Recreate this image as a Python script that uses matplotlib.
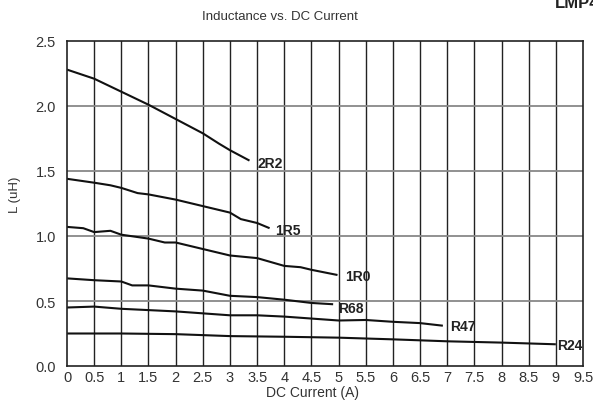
import numpy as np
import matplotlib
matplotlib.use("Agg")
import matplotlib.pyplot as plt

plt.rcParams['font.family'] = ['Liberation Sans', 'DejaVu Sans']

# inductance curves: (current A, inductance uH)
x_2r2 = [0, 0.5, 1, 1.5, 2, 2.5, 2.8, 3, 3.36]
y_2r2 = [2.28, 2.21, 2.11, 2.01, 1.90, 1.79, 1.71, 1.66, 1.58]

x_1r5 = [0, 0.5, 0.8, 1, 1.3, 1.5, 2, 2.5, 3, 3.2, 3.5, 3.73]
y_1r5 = [1.44, 1.41, 1.39, 1.37, 1.33, 1.32, 1.28, 1.23, 1.18, 1.13, 1.10, 1.06]

x_1r0 = [0, 0.3, 0.5, 0.8, 1, 1.5, 1.8, 2, 2.5, 3, 3.5, 4, 4.3, 4.5, 4.98]
y_1r0 = [1.07, 1.06, 1.03, 1.04, 1.01, 0.98, 0.95, 0.95, 0.90, 0.85, 0.83, 0.77, 0.76, 0.74, 0.70]

x_r68 = [0, 0.5, 1, 1.2, 1.5, 2, 2.5, 3, 3.5, 4, 4.5, 4.9]
y_r68 = [0.674, 0.66, 0.65, 0.62, 0.62, 0.595, 0.58, 0.54, 0.53, 0.51, 0.485, 0.475]

x_r47 = [0, 0.5, 1, 1.5, 2, 2.5, 3, 3.5, 4, 4.5, 5, 5.5, 6, 6.5, 6.92]
y_r47 = [0.45, 0.457, 0.44, 0.43, 0.42, 0.405, 0.39, 0.39, 0.38, 0.365, 0.35, 0.354, 0.34, 0.33, 0.31]

x_r24 = [0, 1, 2, 3, 4, 5, 6, 7, 8, 9]
y_r24 = [0.25, 0.25, 0.245, 0.23, 0.225, 0.218, 0.205, 0.19, 0.18, 0.167]

curves = [
    ("2R2", x_2r2, y_2r2, (3.5, 1.565)),
    ("1R5", x_1r5, y_1r5, (3.83, 1.045)),
    ("1R0", x_1r0, y_1r0, (5.12, 0.695)),
    ("R68", x_r68, y_r68, (5.0, 0.445)),
    ("R47", x_r47, y_r47, (7.05, 0.305)),
    ("R24", x_r24, y_r24, (9.02, 0.165)),
]

fig = plt.figure(figsize=(5.93, 4.14), dpi=100)
ax = fig.add_axes([67/593, 1-367/414, 516/593, 325/414])

for name, xs, ys, (tx, ty) in curves:
    ax.plot(xs, ys, color="#111111", lw=1.5, solid_capstyle='butt')
    ax.text(tx, ty, name, fontsize=10, fontweight='bold', va='center', ha='left', color="#222222")

ax.set_xlim(0, 9.5)
ax.set_ylim(0, 2.5)
ax.set_xticks(np.arange(0, 9.51, 0.5))
ax.set_xticklabels(["0"] + [("%g" % v) for v in np.arange(0.5, 9.51, 0.5)])
ax.set_yticks(np.arange(0, 2.51, 0.5))
ax.set_yticklabels(["%.1f" % v for v in np.arange(0, 2.51, 0.5)])
ax.tick_params(length=0, labelsize=10.5, colors="#333333")
ax.tick_params(axis='x', pad=3)
ax.tick_params(axis='y', pad=8)

for v in np.arange(0.5, 9.5, 0.5):
    ax.axvline(v, color="#222222", lw=1.0, zorder=0)
for v in np.arange(0.5, 2.5, 0.5):
    ax.axhline(v, color="#888888", lw=1.3, zorder=0)
for s in ax.spines.values():
    s.set_color("#222222")
    s.set_linewidth(1.2)

fig.text(280/593, 1-17/414, "Inductance vs. DC Current", ha='center', va='center', fontsize=9.5, color="#333333")
fig.text(312/593, 1-393/414, "DC Current (A)", ha='center', va='center', fontsize=10, color="#333333")
fig.text(15/593, 1-195/414, "L (uH)", ha='center', va='center', rotation=90, fontsize=9.5, color="#333333")
fig.text(555/593, 1-8/414, "LMP42", ha='left', va='baseline', fontsize=12, fontweight='bold', color="#222222")

fig.savefig("out.png", dpi=100)
